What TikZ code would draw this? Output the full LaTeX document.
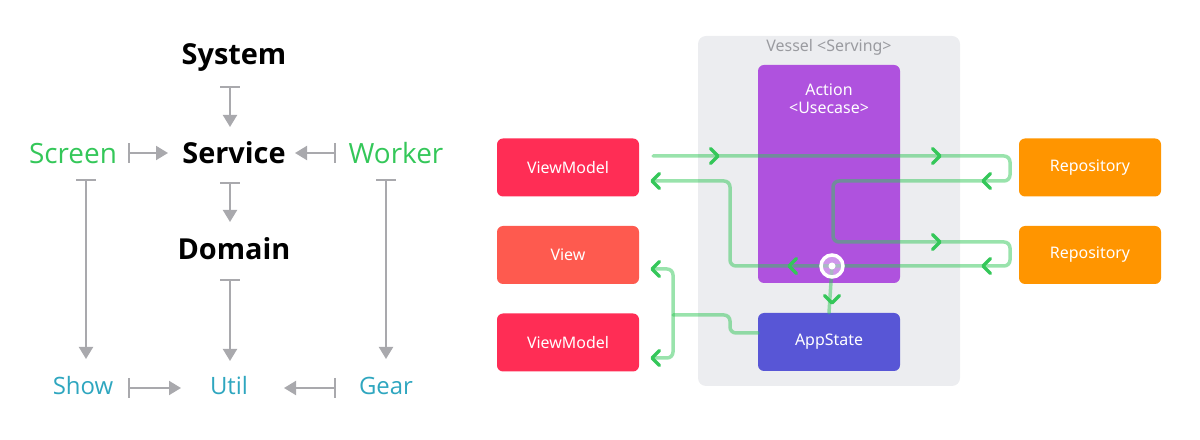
\documentclass[tikz,border=0pt]{standalone}
\usepackage{fontspec}
\setmainfont{Open Sans}
\newfontfamily\uifont{Noto Sans}
\usetikzlibrary{arrows.meta,calc}
\definecolor{sgreen}{HTML}{34C759}
\definecolor{steal}{HTML}{2EA6BF}
\definecolor{garrow}{HTML}{A9A9AD}
\definecolor{vmred}{HTML}{FF2D55}
\definecolor{viewred}{HTML}{FE5A4F}
\definecolor{repoor}{HTML}{FF9500}
\definecolor{actpur}{HTML}{AF52DE}
\definecolor{appblue}{HTML}{5856D6}
\definecolor{vessel}{HTML}{ECEDF0}
\definecolor{vesseltxt}{HTML}{9A9BA0}
\definecolor{fgreen}{HTML}{34C759}
\begin{document}
\begin{tikzpicture}[x=1bp,y=-1bp,
  big/.style={font=\fontsize{29}{33}\selectfont\bfseries, text=black, anchor=base, inner sep=0},
  mid/.style={font=\fontsize{28}{32}\selectfont, text=sgreen, anchor=base, inner sep=0},
  low/.style={font=\fontsize{24}{28}\selectfont, text=steal, anchor=base, inner sep=0},
  garr/.style={draw=garrow, line width=2bp, {Bar[width=20bp]}-{Triangle[width=14bp,length=12bp]}},
  box/.style={rounded corners=6bp, minimum width=142bp, minimum height=58bp, text=white, font=\uifont\fontsize{16}{19}\selectfont, inner sep=0},
  flow/.style={draw=fgreen, draw opacity=0.5, line width=3.5bp, rounded corners=6bp, line cap=round},
  chevst/.style={draw=fgreen, line width=3.5bp, line cap=round, line join=round},
  chevR/.pic={\draw[chevst] (-7.5,-7.5) -- (0,0) -- (-7.5,7.5);},
  chevL/.pic={\draw[chevst] (7.5,-7.5) -- (0,0) -- (7.5,7.5);},
  chevD/.pic={\draw[chevst] (-7.5,-7.5) -- (0,0) -- (7.5,-7.5);}
]
\useasboundingbox (0,0) rectangle (1200,440);

% ---------- left panel ----------
\node[big] (system) at (234,65) {System};
\node[big] (service) at (234,164) {Service};
\node[big] (domain) at (234,260) {Domain};
\node[mid] (screen) at (73,164) {Screen};
\node[mid] (worker) at (396,164) {Worker};
\node[low] (show) at (83,395) {Show};
\node[low] (util) at (229,395) {Util};
\node[low] (gear) at (386,395) {Gear};

\coordinate (sysS) at (230,86);   \coordinate (srvN) at (230,127);
\coordinate (srvS) at (230,182);  \coordinate (domN) at (230,222);
\coordinate (domS) at (230,279);  \coordinate (utlN) at (230,361);
\coordinate (scrE) at (128,153);  \coordinate (srvW) at (168,153);
\coordinate (wrkW) at (336,153);  \coordinate (srvE) at (295,153);
\coordinate (scrS) at (86,179);   \coordinate (shwN) at (86,359);
\coordinate (wrkS) at (386,179);  \coordinate (gerN) at (386,359);
\coordinate (shwE) at (128,388);  \coordinate (utlW) at (181,388);
\coordinate (gerW) at (336,388);  \coordinate (utlE) at (284,388);

\draw[garr] (sysS) -- (srvN);
\draw[garr] (srvS) -- (domN);
\draw[garr] (domS) -- (utlN);
\draw[garr] (scrE) -- (srvW);
\draw[garr] (wrkW) -- (srvE);
\draw[garr] (scrS) -- (shwN);
\draw[garr] (wrkS) -- (gerN);
\draw[garr] (shwE) -- (utlW);
\draw[garr] (gerW) -- (utlE);

% ---------- right panel ----------
\fill[vessel, rounded corners=8bp] (698,36) rectangle (960,386);
\node[font=\uifont\fontsize{16}{18}\selectfont, text=vesseltxt] (vlabel) at (829,47) {Vessel <Serving>};

\node[box, fill=actpur, minimum height=218bp] (action) at (829,174) {};
\node[font=\uifont\fontsize{16}{18}\selectfont, text=white, align=center, inner sep=0] (actlbl) at (829,99) {Action\\<Usecase>};
\node[box, fill=appblue] (app) at (829,342) {AppState};

\node[box, fill=vmred] (vm1) at (568,167.5) {ViewModel};
\node[box, fill=viewred] (view) at (568,255) {View};
\node[box, fill=vmred] (vm2) at (568,342.5) {ViewModel};
\node[box, fill=repoor] (repo1) at (1090,167.5) {Repository};
\node[box, fill=repoor] (repo2) at (1090,255) {Repository};

\coordinate (vmOut) at (653,156);
\coordinate (vmIn) at (653,181);
\coordinate (sig) at (832,266);
\coordinate (appW) at (758,333);
\coordinate (viewIn) at (653,269);
\coordinate (vm2In) at (653,358);

\draw[flow] (vmOut) -- (1010,156) -- (1010,181) -- (833,181) -- (833,242)
  -- (1010,242) -- (1010,266) -- (730,266) -- (730,181) -- (vmIn);
\draw[flow] (sig) -- (app.north);
\draw[flow] (appW) -- (730,333) -- (730,315) -- (673,315);
\draw[flow] (viewIn) -- (673,269) -- (673,358) -- (vm2In);

\pic at (718,156) {chevR};
\pic at (940,156) {chevR};
\pic at (983,181) {chevL};
\pic at (940,242) {chevR};
\pic at (983,266) {chevL};
\pic at (789,266) {chevL};
\pic at (652,181) {chevL};
\pic at (832,303) {chevD};
\pic at (652,269) {chevL};
\pic at (652,358) {chevL};

\filldraw[draw=white, line width=3.5bp, fill=white, fill opacity=0.4] (sig) circle (11bp);
\fill[white] (sig) circle (3.5bp);
\end{tikzpicture}
\end{document}
